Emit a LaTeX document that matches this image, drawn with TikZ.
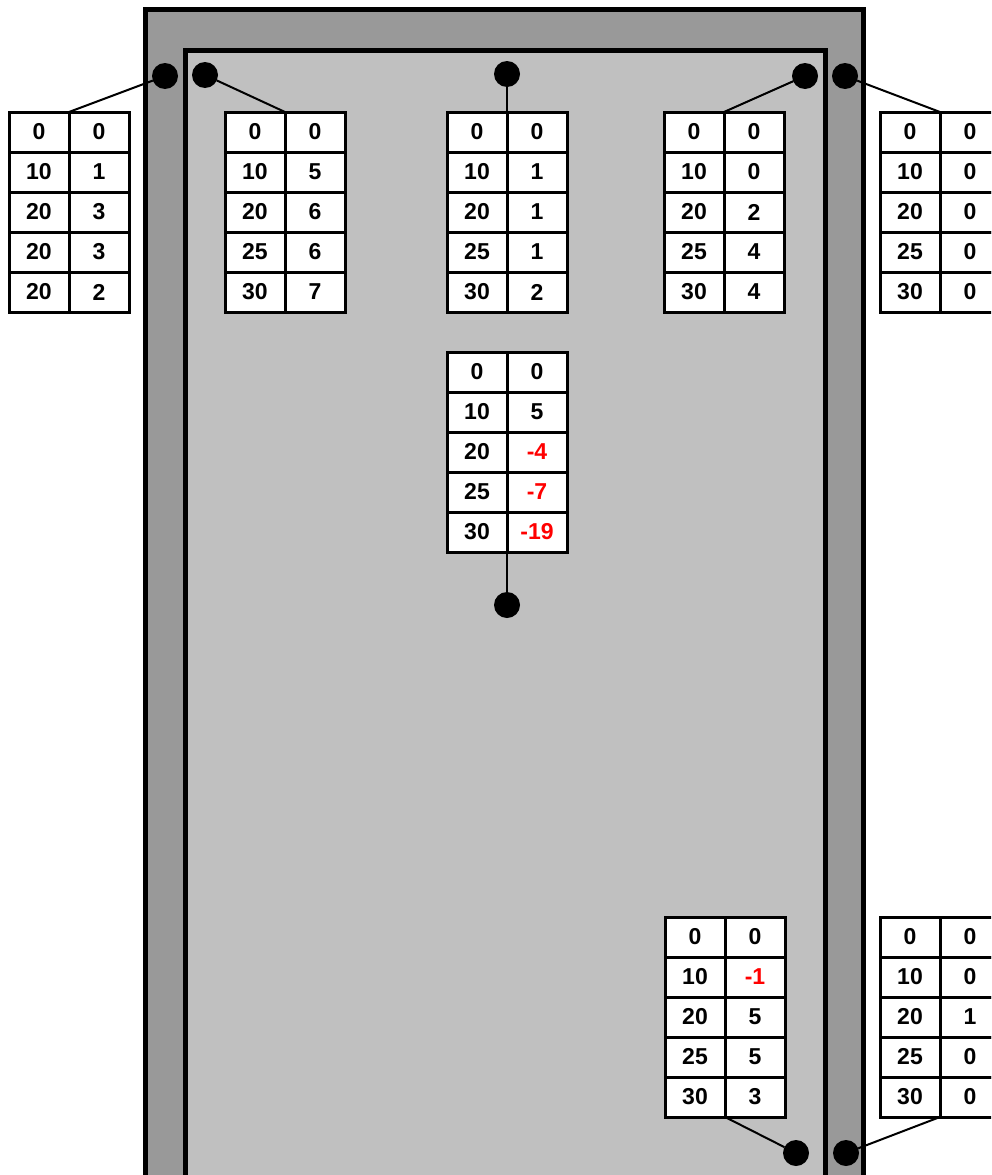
\documentclass[tikz,border=0pt]{standalone}
\usepackage{fontspec}
\setmainfont{Liberation Sans}
\definecolor{outergray}{HTML}{999999}
\definecolor{innergray}{HTML}{C0C0C0}
\definecolor{valred}{HTML}{FF0000}
\newcommand\rd[1]{\textcolor{valred}{#1}}
\newcommand\datatable[4]{%
  \foreach [count=\i] \a/\b in {#4} {%
    \node[cell] (#1-\i-1) at ({#2+30},{#3+20+40*(\i-1)}) {\a};
    \node[cell] (#1-\i-2) at ({#2+90},{#3+20+40*(\i-1)}) {\b};
  }%
}
\tikzset{
  cell/.style={draw=black, line width=3pt, fill=white, minimum width=60pt, minimum height=40pt,
    inner sep=0pt, outer sep=0pt, font=\fontsize{23}{27}\selectfont\bfseries},
  dot/.style={circle, fill=black, minimum size=26pt, inner sep=0pt, outer sep=0pt},
  conn/.style={draw=black, line width=2pt},
  wall/.style={draw=black, line width=5pt}
}
\begin{document}
\begin{tikzpicture}[x=1pt,y=-1pt]
\useasboundingbox (0,0) rectangle (991,1175);
\clip (0,0) rectangle (991,1175);
\draw[wall, fill=outergray] (145.5,9.5) rectangle (863.5,1210);
\draw[wall, fill=innergray] (185,50) rectangle (825,1210);
\datatable{ta}{9}{112}{0/0,10/1,20/3,20/3,20/2}
\datatable{tb}{225}{112}{0/0,10/5,20/6,25/6,30/7}
\datatable{tc}{447}{112}{0/0,10/1,20/1,25/1,30/2}
\datatable{td}{664}{112}{0/0,10/0,20/2,25/4,30/4}
\datatable{te}{880}{112}{0/0,10/0,20/0,25/0,30/0}
\datatable{tf}{447}{352}{0/0,10/5,20/\rd{-4},25/\rd{-7},30/\rd{-19}}
\datatable{tg}{665}{917}{0/0,10/\rd{-1},20/5,25/5,30/3}
\datatable{th}{880}{917}{0/0,10/0,20/1,25/0,30/0}
\node[dot] (da) at (165,76) {};
\node[dot] (db) at (205,75) {};
\node[dot] (dc) at (507,74) {};
\node[dot] (dd) at (805,76) {};
\node[dot] (de) at (845,76) {};
\node[dot] (df) at (507,605) {};
\node[dot] (dg) at (796,1153) {};
\node[dot] (dh) at (846,1153) {};
\draw[conn] (ta-1-1.north east) -- (da);
\draw[conn] (tb-1-1.north east) -- (db);
\draw[conn] (tc-1-1.north east) -- (dc);
\draw[conn] (td-1-1.north east) -- (dd);
\draw[conn] (te-1-1.north east) -- (de);
\draw[conn] (tf-5-1.south east) -- (df);
\draw[conn] (tg-5-1.south east) -- (dg);
\draw[conn] (th-5-1.south east) -- (dh);
\end{tikzpicture}
\end{document}
